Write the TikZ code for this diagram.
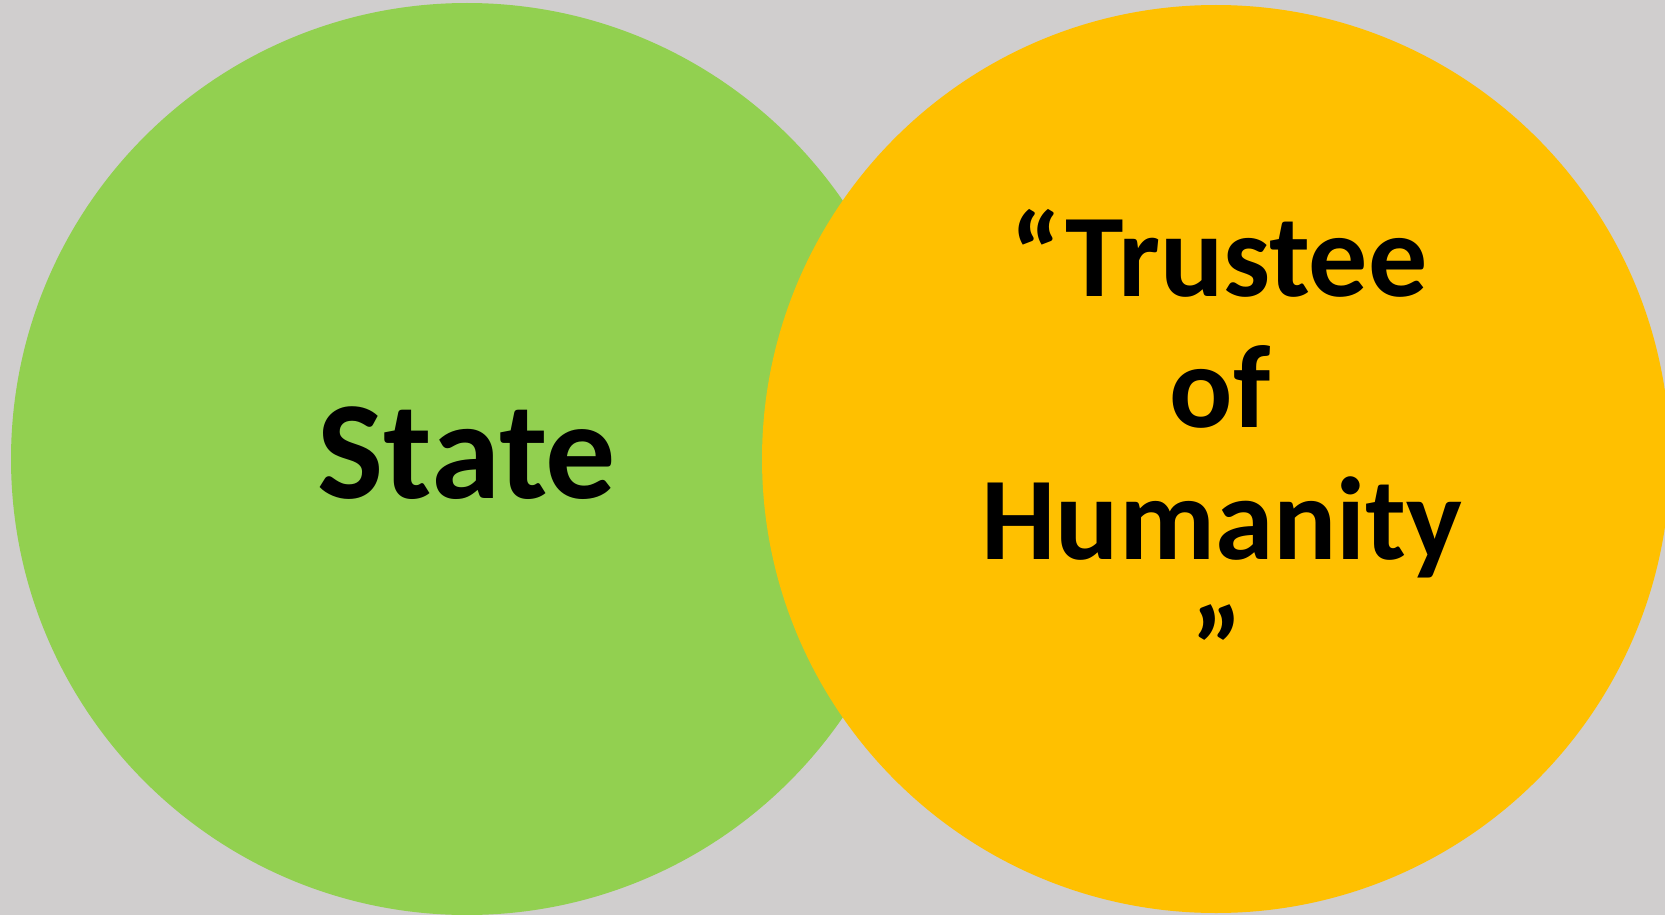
\documentclass[tikz,border=0pt]{standalone}
\usepackage{fontspec}
\setmainfont{Carlito}
\definecolor{bggray}{HTML}{D0CECE}
\definecolor{stategreen}{HTML}{92D050}
\definecolor{trustorange}{HTML}{FFC000}
\begin{document}
\begin{tikzpicture}[x=1pt,y=-1pt,
  bigtext/.style={font=\bfseries\fontsize{140}{140}\selectfont,text=black,inner sep=0pt,anchor=base},
  midtext/.style={font=\bfseries\fontsize{118}{118}\selectfont,text=black,inner sep=0pt,anchor=base}]
\useasboundingbox (0,0) rectangle (1665,915);
\clip (0,0) rectangle (1665,915);
\fill[bggray] (0,0) rectangle (1665,915);
\fill[stategreen] (467,459) circle[radius=456];
\fill[trustorange] (1216,459) circle[radius=454];
\node[bigtext] (state) at (467,498) {State};
\node[midtext] (l1) at (1219,296) {“Trustee};
\node[midtext] (l2) at (1220,427) {of};
\node[midtext] (l3) at (1222,559) {Humanity};
\node[midtext] (l4) at (1217,690) {”};
\end{tikzpicture}
\end{document}
